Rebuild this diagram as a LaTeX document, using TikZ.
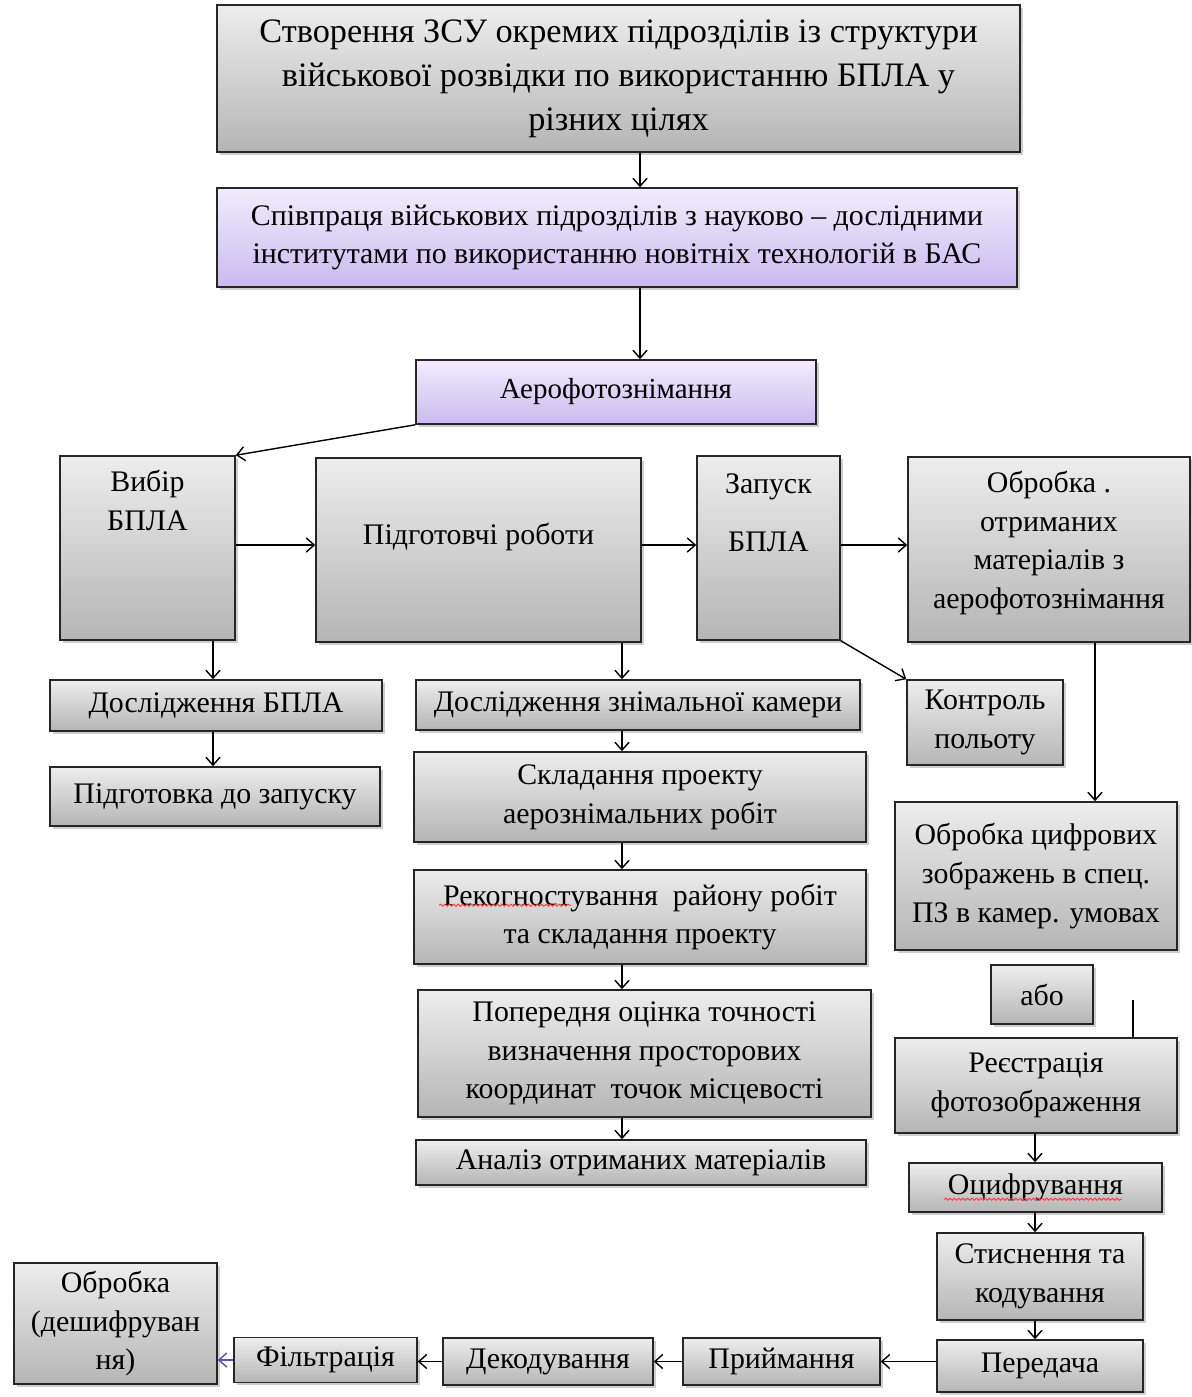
\documentclass[tikz,border=0pt]{standalone}
\usepackage{fontspec}
\setmainfont{Liberation Serif}
\usetikzlibrary{arrows.meta}
\usetikzlibrary{shadows}
\usetikzlibrary{decorations.pathmorphing}

\definecolor{lilactop}{RGB}{242,236,253}
\definecolor{lilacbot}{RGB}{201,187,239}

\tikzset{
  box/.style={draw=black!85, line width=0.9pt, align=center, inner sep=2pt,
    drop shadow={shadow xshift=1.6pt, shadow yshift=-1.6pt, fill=black!38},
    font=\fontsize{17}{22}\selectfont},
  greybox/.style={box, top color=black!7, bottom color=black!29},
  lilacbox/.style={box, top color=lilactop, bottom color=lilacbot},
  tallbox/.style={greybox, inner sep=0pt},
  sz/.style 2 args={minimum width=#1*\pxu, minimum height=#2*\pxu},
  arr/.style={-{Straight Barb[length=4.5pt,width=8pt]}, line width=0.8pt},
  spell/.style={red!80, line width=0.5pt, decorate,
    decoration={snake, amplitude=0.6pt, segment length=2.5pt}}
}

\begin{document}
\begin{tikzpicture}[x=0.02cm, y=-0.02cm]
\def\pxu{0.02cm}
\fill[white] (0,0) rectangle (1191,1397);
\useasboundingbox (0,0) rectangle (1191,1397);

% top of the chain
\node[greybox, sz={803}{147}, font=\fontsize{19.5}{25}\selectfont] (top) at (618.5,78.5)
  {Створення ЗСУ окремих підрозділів із структури\\військової розвідки по використанню БПЛА у\\різних цілях};
\node[lilacbox, sz={800}{99}] (coop) at (617,237.5)
  {Співпраця військових підрозділів з науково – дослідними\\інститутами по використанню новітніх технологій в БАС};
\node[lilacbox, sz={400}{64}, font=\fontsize{16.5}{20}\selectfont] (aero) at (616,392) {Аерофотознімання};

% main row
\node[tallbox] (vybir) at (147.5,548)
  {\parbox[t][3.68cm][t]{3.5cm}{\centering\vspace*{8pt}Вибір\\БПЛА}};
\node[tallbox] (pidg) at (478.5,550)
  {\parbox[t][3.68cm][t]{6.5cm}{\centering\vspace*{37pt}Підготовчі роботи}};
\node[tallbox] (zapusk) at (768.5,548)
  {\parbox[t][3.68cm][t]{2.86cm}{\centering\vspace*{10pt}Запуск\\[11pt]БПЛА}};
\node[tallbox] (obrob) at (1049,549.5)
  {\parbox[t][3.7cm][t]{5.64cm}{\centering\vspace*{8pt}Обробка .\\отриманих\\матеріалів з\\аерофотознімання}};

% left column
\node[greybox, sz={332}{51}] (doslbpla) at (216,705.5) {Дослідження БПЛА};
\node[greybox, sz={330}{59}] (pidgzap) at (215,796.5) {Підготовка до запуску};

% middle column
\node[greybox, sz={444}{50}] (kamera) at (638,705) {Дослідження знімальної камери};
\node[greybox, sz={452}{90}] (proekt) at (640,797) {Складання проекту\\аерознімальних робіт};
\node[greybox, sz={452}{94}] (rekogn) at (640,917) {Рекогностування \ району робіт\\та складання проекту};
\node[greybox, sz={453}{127}] (poper) at (644.5,1053.5)
  {Попередня оцінка точності\\визначення просторових\\координат \ точок місцевості};
\node[greybox, sz={450}{45}] (analiz) at (641,1162.5) {Аналіз отриманих матеріалів};

% right column
\node[greybox, sz={156}{85}] (kontrol) at (985,722.5) {Контроль\\польоту};
\node[greybox, sz={282}{148}] (obrcyf) at (1036,876) {Обробка цифрових\\зображень в спец.\\ПЗ в камер. умовах};
\node[greybox, sz={102}{59}] (abo) at (1042,994.5) {або};
\node[greybox, sz={282}{95}] (reestr) at (1036,1085.5) {Реєстрація\\фотозображення};
\node[greybox, sz={253}{49}] (cyfr) at (1035.5,1187.5) {Оцифрування};
\node[greybox, sz={206}{87}] (stysn) at (1040,1276.5) {Стиснення та\\кодування};
\node[greybox, sz={206}{52}] (pered) at (1040,1366) {Передача};

% bottom row
\node[greybox, sz={197}{47}] (pryim) at (781.5,1361.5) {Приймання};
\node[greybox, sz={210}{47}] (dekod) at (548,1361.5) {Декодування};
\node[greybox, sz={183}{45}] (filtr) at (325.5,1360) {Фільтрація};
\node[greybox, sz={203}{121}] (obrdesh) at (115.5,1323.5) {Обробка\\(дешифруван\\ня)};

\coordinate (topcol) at (640,0);
\coordinate (leftcol) at (213,0);
\coordinate (midcol) at (622,0);
\coordinate (rcol) at (1095,0);
\coordinate (botcol) at (1035,0);
\coordinate (rowy) at (0,545);
\coordinate (stub) at (1133,1000);

\draw[arr] (topcol |- top.south) -- (topcol |- coop.north);
\draw[arr] (topcol |- coop.south) -- (topcol |- aero.north);
\draw[arr] (aero.south west) -- (vybir.north east);
\draw[arr] (vybir.east |- rowy) -- (pidg.west |- rowy);
\draw[arr] (pidg.east |- rowy) -- (zapusk.west |- rowy);
\draw[arr] (zapusk.east |- rowy) -- (obrob.west |- rowy);
\draw[arr] (zapusk.south east) -- (kontrol.north west);

\draw[arr] (leftcol |- vybir.south) -- (leftcol |- doslbpla.north);
\draw[arr] (leftcol |- doslbpla.south) -- (leftcol |- pidgzap.north);

\draw[arr] (midcol |- pidg.south) -- (midcol |- kamera.north);
\foreach \a/\b in {kamera/proekt, proekt/rekogn, rekogn/poper, poper/analiz}
  \draw[arr] (midcol |- \a.south) -- (midcol |- \b.north);

\draw[arr] (rcol |- obrob.south) -- (rcol |- obrcyf.north);
\draw[line width=1.3pt] (stub) -- (stub |- reestr.north);
\foreach \a/\b in {reestr/cyfr, cyfr/stysn, stysn/pered}
  \draw[arr] (botcol |- \a.south) -- (botcol |- \b.north);

\draw[arr] (pered.west |- pryim) -- (pryim.east);
\draw[arr] (pryim) -- (dekod);
\draw[arr] (dekod.west) -- (filtr.east |- dekod.west);
\draw[arr, blue!35!gray] (filtr.west) -- (obrdesh.east |- filtr.west);

% spell-check marks
\draw[spell] ([shift={(26,36)}]rekogn.north west) -- ++(132,0);
\draw[spell] ([shift={(36,37)}]cyfr.north west) -- ++(178,0);
\end{tikzpicture}
\end{document}
